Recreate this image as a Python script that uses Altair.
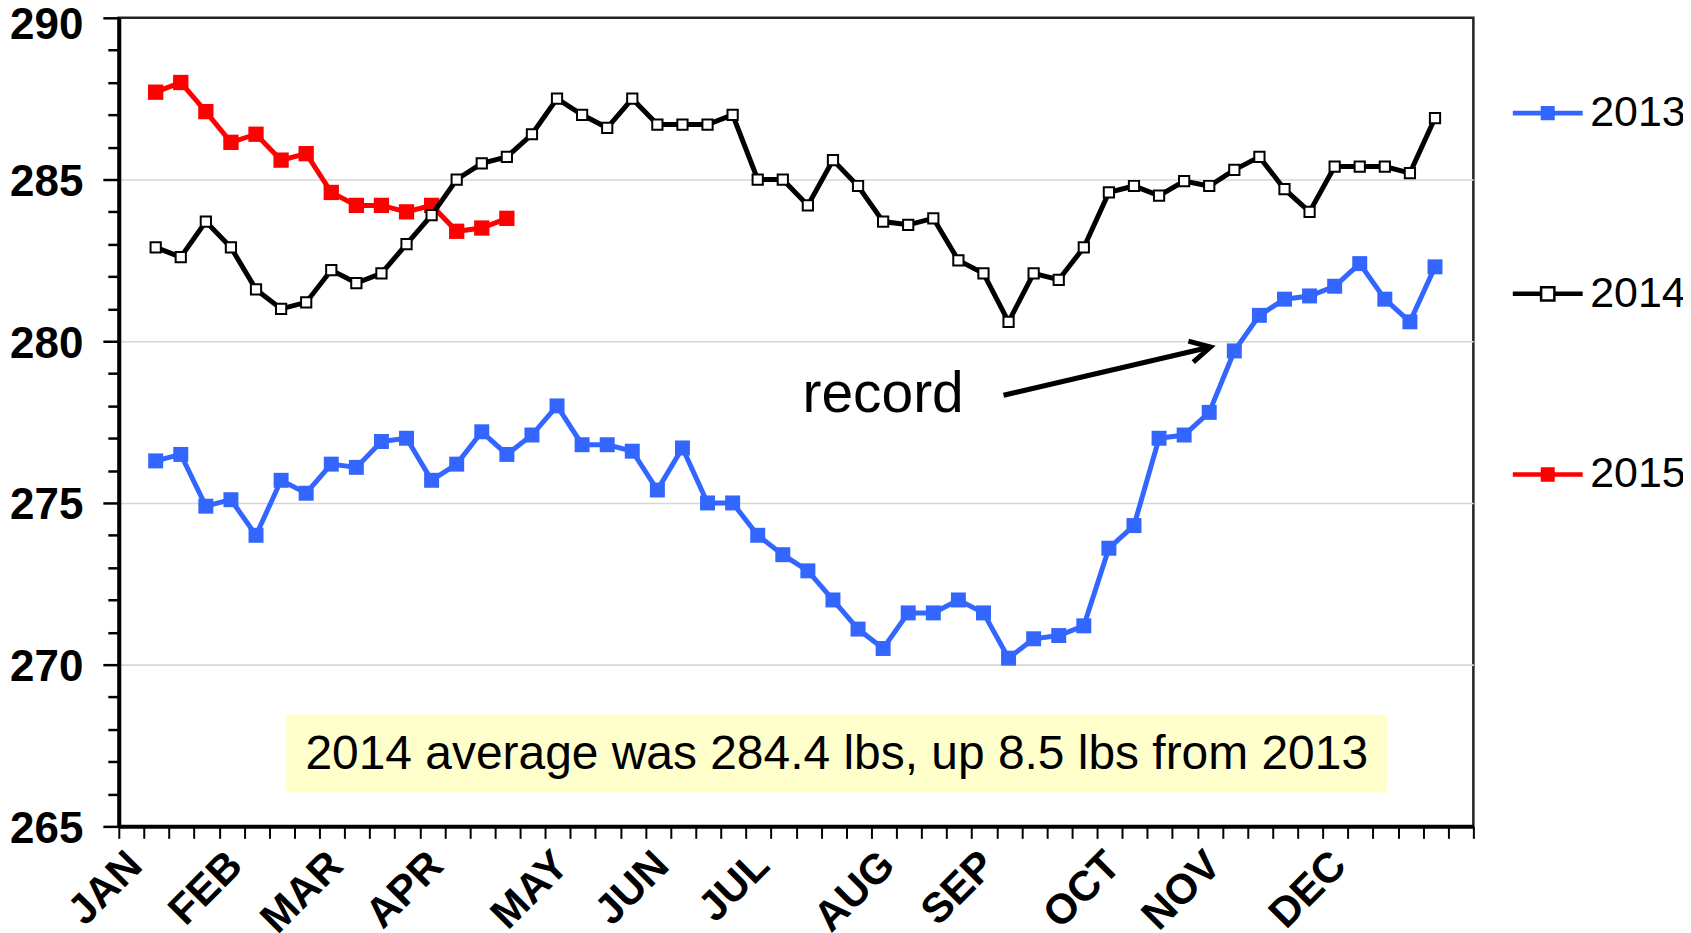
import altair as alt
import pandas as pd

# ---------------- data ----------------
years = ["2013", "2014", "2015"]

weights_2013 = [276.3, 276.5, 274.9, 275.1, 274.0, 275.7, 275.3, 276.2, 276.1, 276.9,
                277.0, 275.7, 276.2, 277.2, 276.5, 277.1, 278.0, 276.8, 276.8, 276.6,
                275.4, 276.7, 275.0, 275.0, 274.0, 273.4, 272.9, 272.0, 271.1, 270.5,
                271.6, 271.6, 272.0, 271.6, 270.2, 270.8, 270.9, 271.2, 273.6, 274.3,
                277.0, 277.1, 277.8, 279.7, 280.8, 281.3, 281.4, 281.7, 282.4, 281.3,
                280.6, 282.3]
weights_2014 = [282.9, 282.6, 283.7, 282.9, 281.6, 281.0, 281.2, 282.2, 281.8, 282.1,
                283.0, 283.9, 285.0, 285.5, 285.7, 286.4, 287.5, 287.0, 286.6, 287.5,
                286.7, 286.7, 286.7, 287.0, 285.0, 285.0, 284.2, 285.6, 284.8, 283.7,
                283.6, 283.8, 282.5, 282.1, 280.6, 282.1, 281.9, 282.9, 284.6, 284.8,
                284.5, 284.95, 284.8, 285.3, 285.7, 284.7, 284.0, 285.4, 285.4, 285.4,
                285.2, 286.9]
weights_2015 = [287.7, 288.0, 287.1, 286.15, 286.4, 285.6, 285.8, 284.6, 284.2, 284.2,
                284.0, 284.2, 283.4, 283.5, 283.8]

month_names = ["JAN", "FEB", "MAR", "APR", "MAY", "JUN",
               "JUL", "AUG", "SEP", "OCT", "NOV", "DEC"]
month_tick_slots = [1, 5, 9, 13, 18, 22, 26, 31, 35, 40, 44, 49]

record_label = ["record"]
record_x = [30.0]
record_y = [277.8]
arrow_x = [34.8]
arrow_y = [278.33]
arrow_x2 = [43.05]
arrow_y2 = [279.82]

note_label = ["2014 average was 284.4 lbs, up 8.5 lbs from 2013"]
note_x = [28.15]
note_y = [267.2]
note_box_x = [6.2]
note_box_x2 = [50.1]
note_box_y = [266.05]
note_box_y2 = [268.45]

# ---------------- styles ----------------
line_colors = ["#3366FF", "#000000", "#FF0000"]
marker_fills = ["#3366FF", "#FFFFFF", "#FF0000"]
FONT = "Liberation Sans"

rows = []
for yr, vals in zip(years, [weights_2013, weights_2014, weights_2015]):
    for i, v in enumerate(vals, start=1):
        rows.append({"year": yr, "week": i, "weight": v})
df = pd.DataFrame(rows)

X_OFFSET = 0.47
N_TICKS = 55
x_min = -X_OFFSET
x_max = N_TICKS - 1 - X_OFFSET
tick_values = [round(k - X_OFFSET, 3) for k in range(N_TICKS)]
slot_labels = [""] * N_TICKS
for slot, name in zip(month_tick_slots, month_names):
    slot_labels[slot] = name
label_expr = "[" + ",".join("'" + s + "'" for s in slot_labels) + "][round(datum.value + %s)]" % X_OFFSET

x_scale = alt.Scale(domain=[x_min, x_max], nice=False, zero=False)
y_scale = alt.Scale(domain=[265, 290], nice=False, zero=False)

x_axis = alt.Axis(
    values=tick_values, labelExpr=label_expr, title=None, grid=False,
    tickSize=12, tickWidth=2, tickColor="black",
    domainWidth=4, domainColor="black",
    labelAngle=315, labelAlign="right", labelBaseline="alphabetic",
    labelFont=FONT, labelFontWeight="bold", labelFontSize=42, labelColor="black",
    labelPadding=29, labelOverlap=False, labelFlush=False, labelBound=False,
)
y_axis = alt.Axis(
    values=list(range(265, 291)),
    labelExpr="datum.value % 5 === 0 ? datum.label : ''",
    title=None, grid=True,
    gridColor={"condition": {"test": "datum.value % 5 === 0 && datum.value > 265 && datum.value < 290",
                             "value": "#d6d6d6"}, "value": "rgba(0,0,0,0)"},
    gridWidth=1.6,
    tickSize={"condition": {"test": "datum.value % 5 === 0", "value": 16}, "value": 11},
    tickWidth=2.5, tickColor="black",
    domainWidth=4, domainColor="black",
    labelFont=FONT, labelFontWeight="bold", labelFontSize=44, labelColor="black",
    labelPadding=20, labelOverlap=False, labelFlush=False,
    labelOffset={"condition": {"test": "datum.value === 290", "value": 8}, "value": 3},
)


def X(field):
    return alt.X(field, type="quantitative", scale=x_scale, axis=x_axis)


def Y(field):
    return alt.Y(field, type="quantitative", scale=y_scale, axis=y_axis)


base = alt.Chart(df)

series_layers = []
for yr, col, fill, size, sw in [("2013", line_colors[0], marker_fills[0], 225, 0),
                                ("2015", line_colors[2], marker_fills[2], 235, 0),
                                ("2014", line_colors[1], marker_fills[1], 105, 2)]:
    sub = base.transform_filter(alt.datum.year == yr)
    series_layers.append(sub.mark_line(color=col, strokeWidth=5).encode(x=X("week"), y=Y("weight")))
    series_layers.append(
        sub.mark_point(shape="square", filled=True, fill=fill, stroke=col, strokeWidth=sw,
                       size=size, opacity=1).encode(x=X("week"), y=Y("weight"))
    )

# annotation box + text
box_df = pd.DataFrame({"bx": note_box_x, "bx2": note_box_x2, "by": note_box_y, "by2": note_box_y2})
box = alt.Chart(box_df).mark_rect(color="#FFFFCC").encode(
    x=X("bx"), x2="bx2", y=Y("by"), y2="by2")

note_df = pd.DataFrame({"nx": note_x, "ny": note_y, "label": note_label})
note = alt.Chart(note_df).mark_text(font=FONT, fontSize=48, color="black",
                                    align="center", baseline="middle").encode(
    x=X("nx"), y=Y("ny"), text="label:N")

rec_df = pd.DataFrame({"rx": record_x, "ry": record_y, "label": record_label})
rec = alt.Chart(rec_df).mark_text(font=FONT, fontSize=57, color="black",
                                  align="center", baseline="alphabetic").encode(
    x=X("rx"), y=Y("ry"), text="label:N")

arr_df = pd.DataFrame({"ax": arrow_x, "ay": arrow_y, "ax2": arrow_x2, "ay2": arrow_y2})
arrow_line = alt.Chart(arr_df).mark_rule(color="black", strokeWidth=5).encode(
    x=X("ax"), y=Y("ay"), x2="ax2", y2="ay2")
arrow_head = alt.Chart(arr_df).mark_point(
    shape="M-0.88,-0.47L0,0L-0.88,0.47", size=2116, angle=346.9, filled=False,
    color="black", strokeWidth=5, opacity=1, strokeJoin="miter").encode(
    x=X("ax2"), y=Y("ay2"))

# legend carrier (no marks drawn, only legend)
line_part = "M-1,-0.03H1M-1,0.03H1"
solid_square = "M-0.2,-0.17H0.2M-0.2,-0.1H0.2M-0.2,-0.03H0.2M-0.2,0.03H0.2M-0.2,0.1H0.2M-0.2,0.17H0.2"
path_filled = line_part + solid_square
path_hollow = ("M-1,-0.03H-0.19M-1,0.03H-0.19M0.19,-0.03H1M0.19,0.03H1"
               "M-0.19,-0.19H0.19V0.19H-0.19Z")
legend_def = dict(
    title=None, orient="none", legendX=1395, legendY=59, direction="vertical",
    rowPadding=122, padding=0, labelFont=FONT, labelFontSize=43, labelColor="black",
    labelOffset=6, symbolSize=4900, symbolStrokeWidth=2.5, labelLimit=0,
)
legend_layer = base.transform_filter("false").mark_point(
    filled=False, size=4900, strokeWidth=2.5, opacity=1).encode(
    x=X("week"), y=Y("weight"),
    color=alt.Color("year:N", scale=alt.Scale(domain=years, range=line_colors),
                    legend=alt.Legend(**legend_def)),
    shape=alt.Shape("year:N", scale=alt.Scale(domain=years,
                                              range=[path_filled, path_hollow, path_filled]),
                    legend=alt.Legend(**legend_def)),
)

chart = alt.layer(box, note, *series_layers, rec, arrow_line, arrow_head, legend_layer).properties(
    width=1357, height=810,
    autosize=alt.AutoSizeParams(type="none"),
    padding={"left": 111, "top": 9, "right": 210, "bottom": 106},
    background="white",
).configure_view(stroke="#222222", strokeWidth=2.5)

chart.save("out.html", embed_options={"renderer": "svg", "actions": False})
